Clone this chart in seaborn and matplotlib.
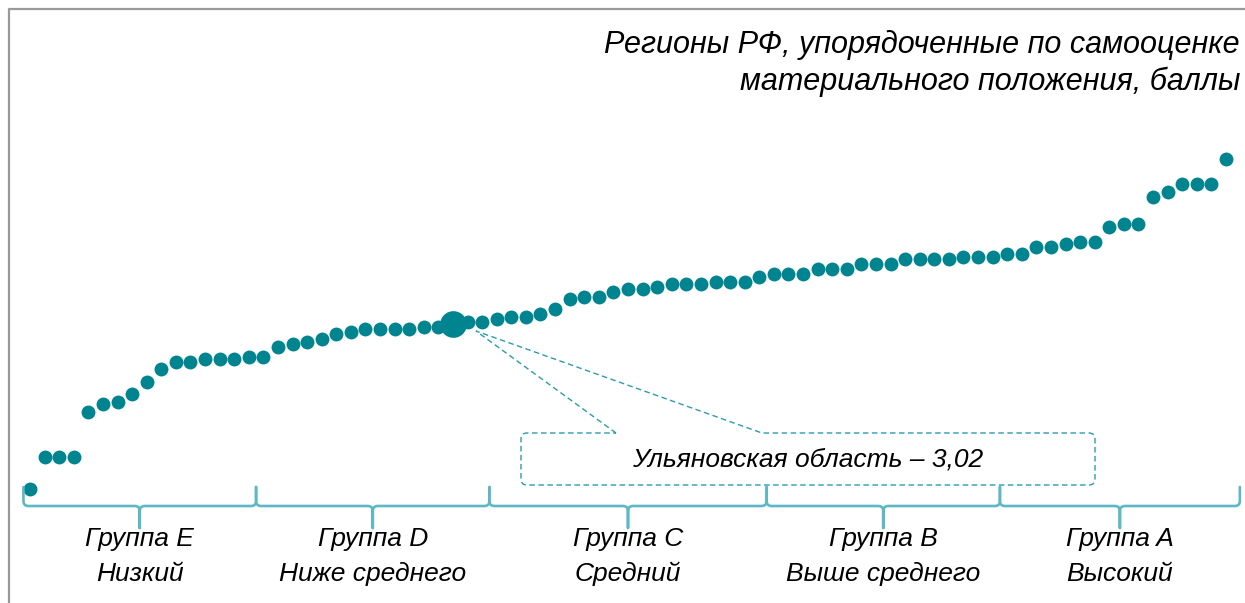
import matplotlib
matplotlib.use("Agg")
import matplotlib.pyplot as plt
import numpy as np
import pandas as pd
import seaborn as sns
from matplotlib.lines import Line2D
from matplotlib.patches import PathPatch
from matplotlib.path import Path
from matplotlib.transforms import IdentityTransform

# self-assessment score of regions, sorted ascending
scores = [
    2.36, 2.49, 2.49, 2.49, 2.67, 2.70, 2.71, 2.74, 2.79, 2.84,
    2.87, 2.87, 2.88, 2.88, 2.88, 2.89, 2.89, 2.93, 2.94, 2.95,
    2.96, 2.98, 2.99, 3.00, 3.00, 3.00, 3.00, 3.01, 3.01, 3.02,
    3.03, 3.03, 3.04, 3.05, 3.05, 3.06, 3.08, 3.12, 3.13, 3.13,
    3.15, 3.16, 3.16, 3.17, 3.18, 3.18, 3.18, 3.19, 3.19, 3.19,
    3.21, 3.22, 3.22, 3.22, 3.24, 3.24, 3.24, 3.26, 3.26, 3.26,
    3.28, 3.28, 3.28, 3.28, 3.29, 3.29, 3.29, 3.30, 3.30, 3.33,
    3.33, 3.34, 3.35, 3.35, 3.41, 3.42, 3.42, 3.53, 3.55, 3.58,
    3.58, 3.58, 3.68,
]
highlight_index = 29
highlight_label = "Ульяновская область – 3,02"

group_sizes = [16, 16, 19, 16, 16]
group_names = ["Группа E", "Группа D", "Группа C", "Группа B", "Группа A"]
group_levels = ["Низкий", "Ниже среднего", "Средний", "Выше среднего", "Высокий"]

title_lines = ["Регионы РФ, упорядоченные по самооценке", "материального положения, баллы"]

W, H = 1245, 603
DOT = "#00848F"
BRACE = "#5CB8C4"
CALLOUT = "#2A9DAD"
TEXT = "#000000"

sns.set_theme(style="white")
plt.rcParams["font.family"] = ["Liberation Sans", "DejaVu Sans"]

df = pd.DataFrame({"rank": np.arange(len(scores)), "score": scores})

fig = plt.figure(figsize=(W / 100, H / 100), dpi=100)
ax = fig.add_axes([0, 0, 1, 1])
step = 1196 / (len(scores) - 1)
ax.set_xlim(-30 / step, len(scores) - 1 + 19 / step)
ax.set_ylim(3.02 - 279 * 0.004, 3.02 + 324 * 0.004)
ax.axis("off")

sns.scatterplot(data=df, x="rank", y="score", color=DOT, s=100, linewidth=0, ax=ax, zorder=3)
sns.scatterplot(data=df.iloc[[highlight_index]], x="rank", y="score", color=DOT, s=370,
                linewidth=0, ax=ax, zorder=4)


def to_px(x_data):
    # data x -> display x in pixels
    return ax.transData.transform((x_data, 0))[0]


def ytop(y_px):
    return H - y_px


def fig_xy(x_px, y_px):
    return x_px / W, 1 - y_px / H


# frame lines (top and left)
fig.add_artist(Line2D([9 / W, 9 / W, 1], [0, 1 - 9 / H, 1 - 9 / H], transform=fig.transFigure,
                      color="#999999", lw=1.6))

# braces under groups
bounds = np.concatenate([[-0.45], np.cumsum(group_sizes) - 0.5])
bounds[-1] = len(scores) - 0.05
base, top, tip, r = 506, 487, 528, 5
for i, (name, level) in enumerate(zip(group_names, group_levels)):
    x0, x1 = to_px(bounds[i]), to_px(bounds[i + 1])
    xm = (x0 + x1) / 2
    verts = [
        (x0, ytop(top)), (x0, ytop(base - r)), (x0, ytop(base)), (x0 + r, ytop(base)),
        (xm - r, ytop(base)), (xm, ytop(base)), (xm, ytop(base + r)), (xm, ytop(tip)),
        (xm, ytop(base + r)), (xm, ytop(base)), (xm + r, ytop(base)),
        (x1 - r, ytop(base)), (x1, ytop(base)), (x1, ytop(base - r)), (x1, ytop(top)),
    ]
    codes = [
        Path.MOVETO, Path.LINETO, Path.CURVE3, Path.CURVE3,
        Path.LINETO, Path.CURVE3, Path.CURVE3, Path.LINETO,
        Path.LINETO, Path.CURVE3, Path.CURVE3,
        Path.LINETO, Path.CURVE3, Path.CURVE3, Path.LINETO,
    ]
    fig.add_artist(PathPatch(Path(verts, codes), transform=IdentityTransform(), fill=False,
                             edgecolor=BRACE, lw=1.9, capstyle="round", joinstyle="round"))
    fig.text(*fig_xy(xm, 539), name, ha="center", va="center", fontsize=19,
             style="italic", color=TEXT)
    fig.text(*fig_xy(xm, 574), level, ha="center", va="center", fontsize=19,
             style="italic", color=TEXT)

# callout box for the highlighted region
hx, hy = ax.transData.transform((highlight_index, scores[highlight_index]))
apex = (hx + 23, hy - 7)
bx0, bx1, by0, by1, cr = 521, 1095, 433, 485, 6
p0, p1 = 616, 762
verts = [
    (p0, ytop(by0)), apex, (p1, ytop(by0)),
    (bx1 - cr, ytop(by0)), (bx1, ytop(by0)), (bx1, ytop(by0 + cr)),
    (bx1, ytop(by1 - cr)), (bx1, ytop(by1)), (bx1 - cr, ytop(by1)),
    (bx0 + cr, ytop(by1)), (bx0, ytop(by1)), (bx0, ytop(by1 - cr)),
    (bx0, ytop(by0 + cr)), (bx0, ytop(by0)), (bx0 + cr, ytop(by0)),
    (p0, ytop(by0)),
]
codes = [
    Path.MOVETO, Path.LINETO, Path.LINETO,
    Path.LINETO, Path.CURVE3, Path.CURVE3,
    Path.LINETO, Path.CURVE3, Path.CURVE3,
    Path.LINETO, Path.CURVE3, Path.CURVE3,
    Path.LINETO, Path.CURVE3, Path.CURVE3,
    Path.LINETO,
]
fig.add_artist(PathPatch(Path(verts, codes), transform=IdentityTransform(), fill=False,
                         edgecolor=CALLOUT, lw=1.0, linestyle=(0, (4, 2.5))))
fig.text(*fig_xy((bx0 + bx1) / 2, 459), highlight_label, ha="center", va="center",
         fontsize=19, style="italic", color=TEXT)

# title
fig.text(*fig_xy(1240, 45), title_lines[0], ha="right", va="center", fontsize=22,
         style="italic", color=TEXT)
fig.text(*fig_xy(1240, 82), title_lines[1], ha="right", va="center", fontsize=22,
         style="italic", color=TEXT)

fig.savefig("out.png", dpi=100)
